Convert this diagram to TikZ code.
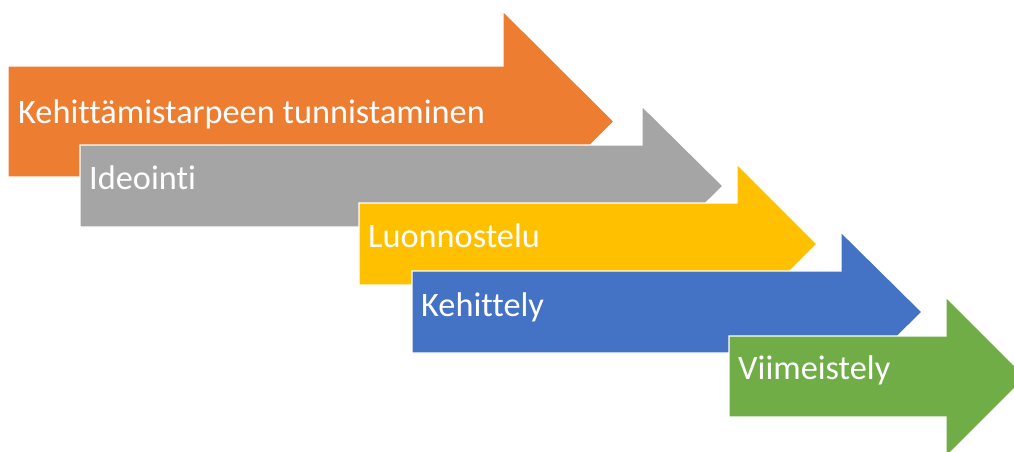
\documentclass[tikz,border=0pt]{standalone}
\usepackage{fontspec}
\setmainfont[Ligatures=NoCommon]{Carlito}
\definecolor{cOrange}{HTML}{ED7D31}
\definecolor{cGray}{HTML}{A5A5A5}
\definecolor{cYellow}{HTML}{FFC000}
\definecolor{cBlue}{HTML}{4472C4}
\definecolor{cGreen}{HTML}{70AD47}
\tikzset{
  arrowshape/.style={draw=white, line width=1.2pt, line join=miter},
  lbl/.style={anchor=base west, inner sep=0pt, text=white, font=\fontsize{34.3}{41}\selectfont}
}
\begin{document}
\begin{tikzpicture}[x=1pt,y=-1pt]
\useasboundingbox (0,0) rectangle (1014,452);
\clip (0,0) rectangle (1014,452);
% orange
\fill[cOrange, arrowshape] (8,66) -- (503,66) -- (503,11) -- (614,121.5) -- (503,232) -- (503,177) -- (8,177) -- cycle;
\node[lbl] (t1) at (18,123) {Kehittämistarpeen tunnistaminen};
% gray
\fill[cGray, arrowshape] (80,145) -- (642,145) -- (642,106) -- (723,186) -- (642,266) -- (642,227) -- (80,227) -- cycle;
\node[lbl] (t2) at (89,189) {Ideointi};
% yellow
\fill[cYellow, arrowshape] (359,203) -- (737,203) -- (737,164) -- (817,244) -- (737,324) -- (737,285) -- (359,285) -- cycle;
\node[lbl] (t3) at (368,247) {Luonnostelu};
% blue
\fill[cBlue, arrowshape] (412,271) -- (841,271) -- (841,232) -- (922,312) -- (841,392) -- (841,353) -- (412,353) -- cycle;
\node[lbl] (t4) at (421,316) {Kehittely};
% green
\fill[cGreen, arrowshape] (729,336) -- (946,336) -- (946,297) -- (1026,377) -- (946,457) -- (946,417) -- (729,417) -- cycle;
\node[lbl] (t5) at (738,379) {Viimeistely};
\end{tikzpicture}
\end{document}
